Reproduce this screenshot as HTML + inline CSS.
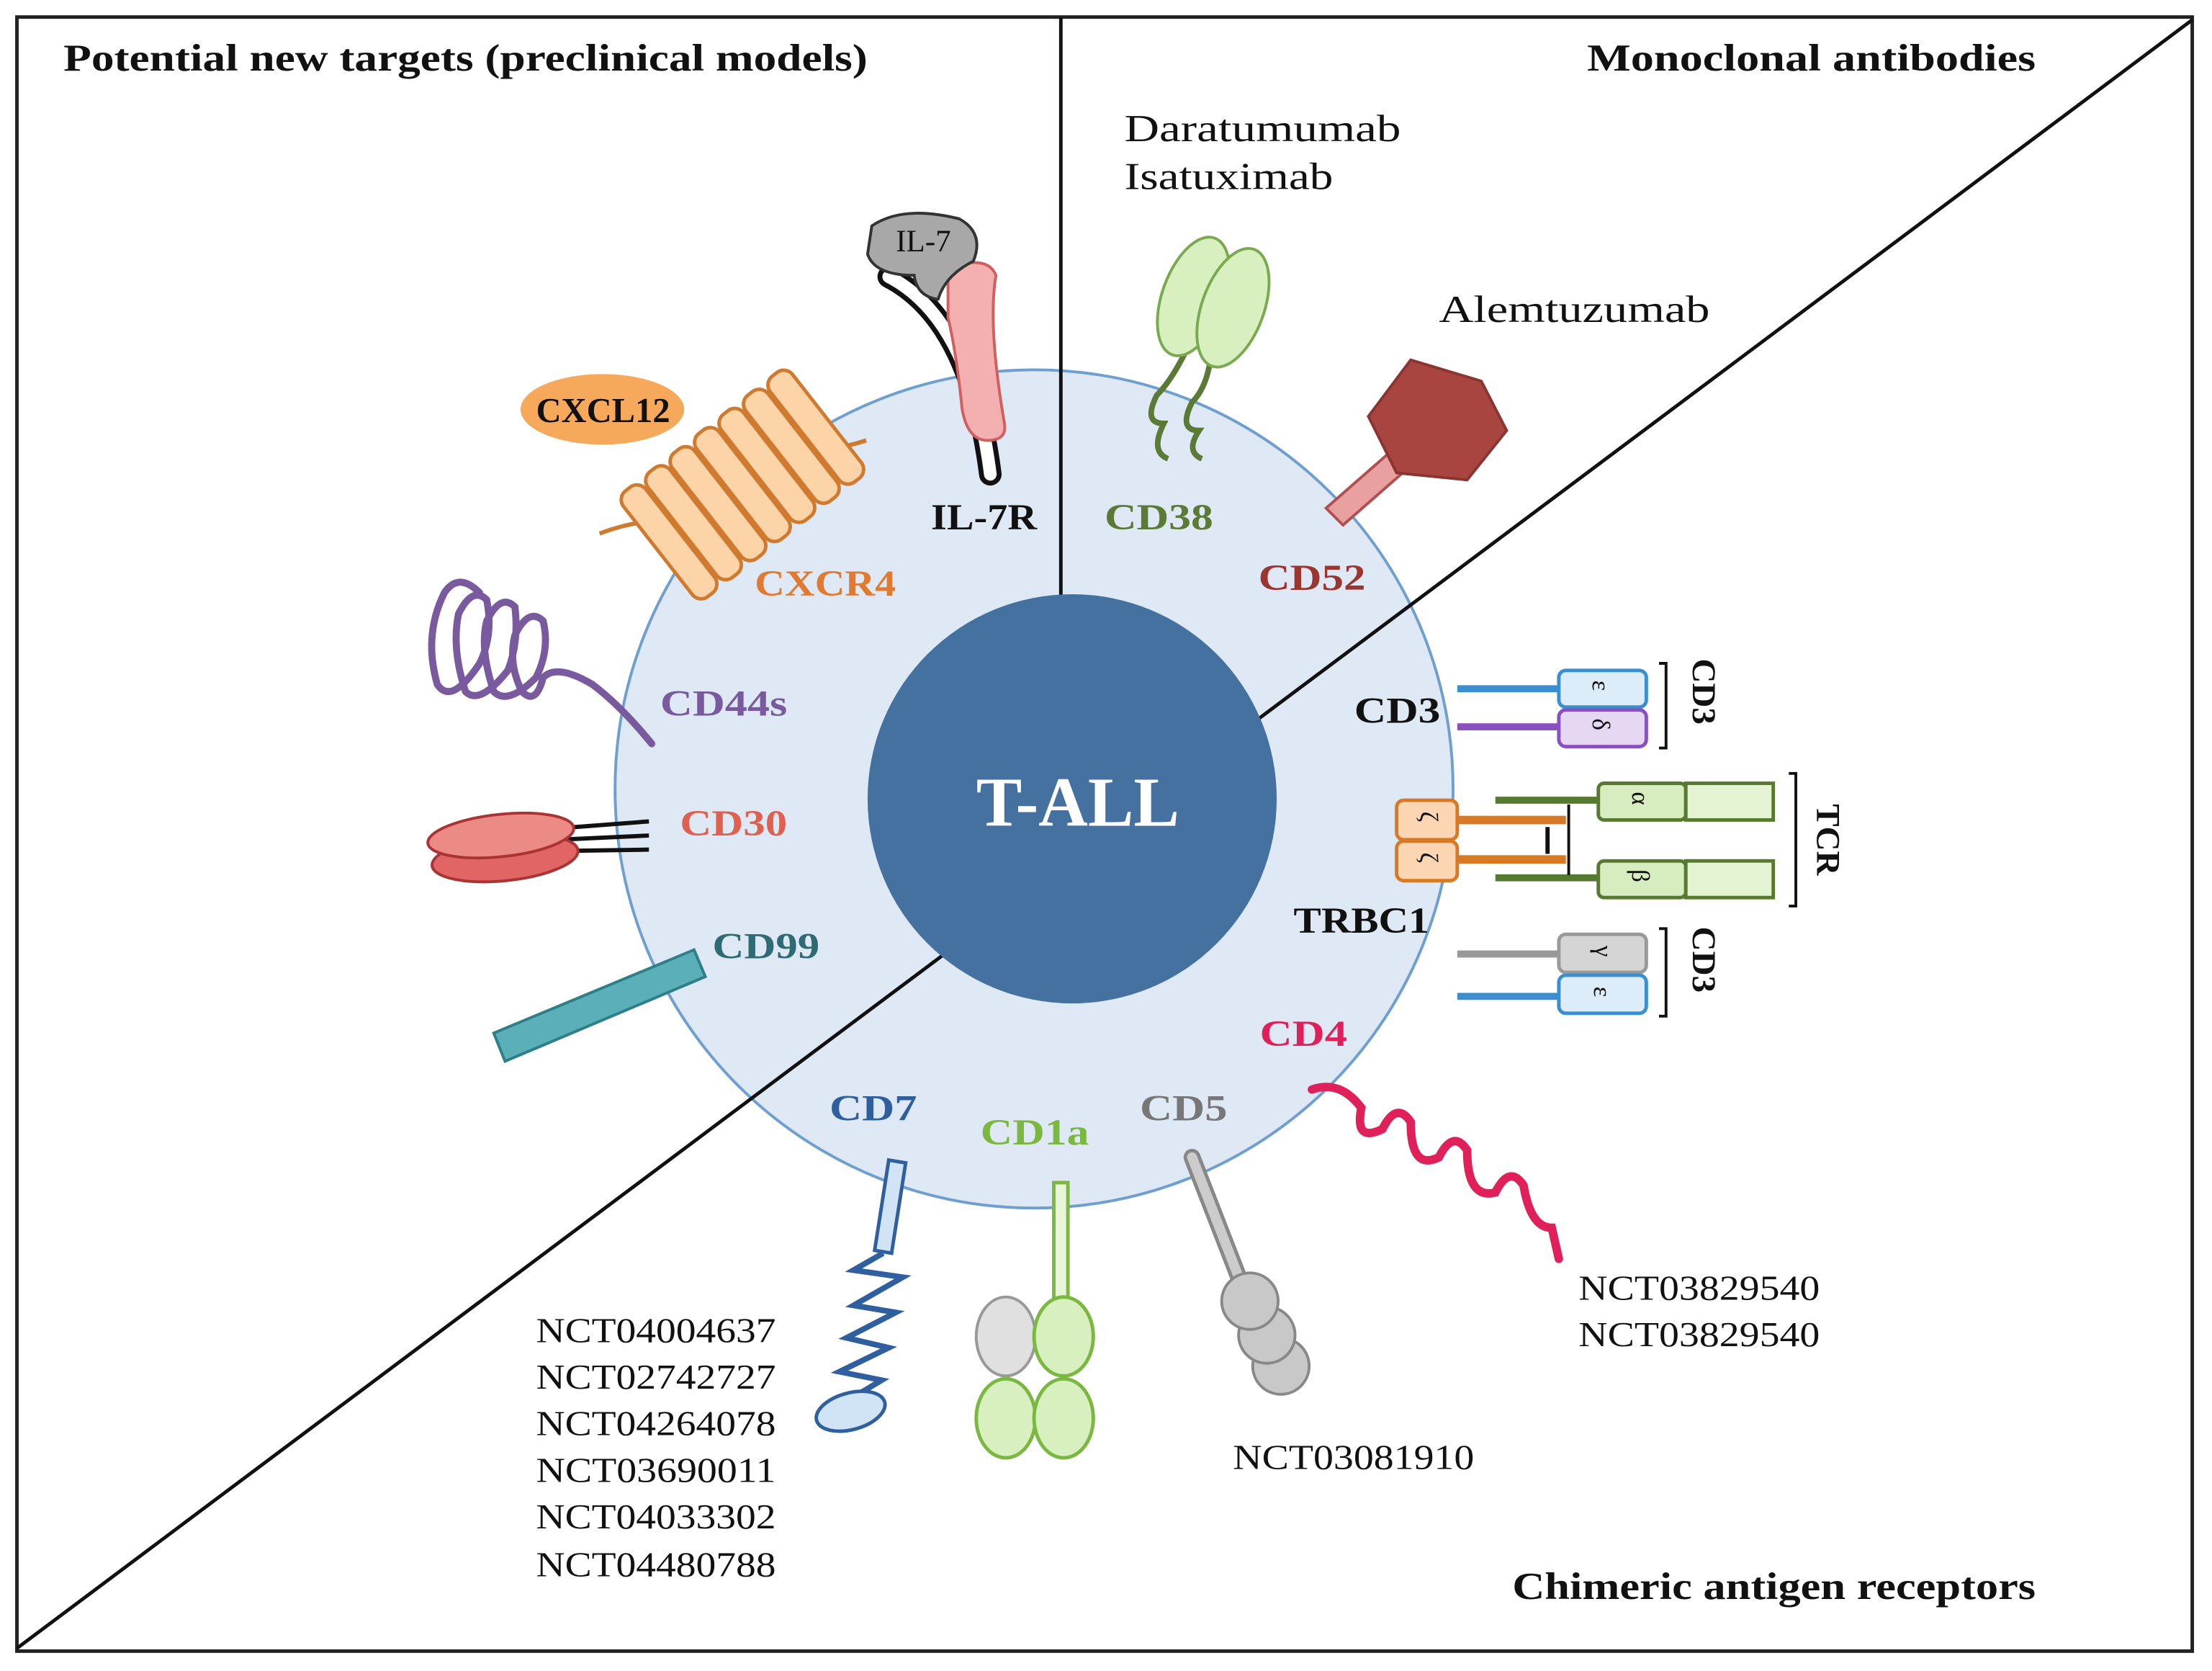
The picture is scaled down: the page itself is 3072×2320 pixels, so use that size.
<!DOCTYPE html>
<html><head><style>html,body{margin:0;padding:0;background:#fff}svg{display:block}</style></head>
<body>
<svg width="3072" height="2320" viewBox="0 0 1568 1184" xmlns="http://www.w3.org/2000/svg" font-family="Liberation Serif, serif">
<rect x="0" y="0" width="1568" height="1184" fill="#fff"/>
<rect x="12" y="12" width="1542" height="1158" fill="none" stroke="#222" stroke-width="2.5"/>
<circle cx="733" cy="559" r="297" fill="#dfe9f5" stroke="#6f9fd0" stroke-width="2"/>
<line x1="752" y1="12" x2="752" y2="430" stroke="#111" stroke-width="2.5"/>
<line x1="1554" y1="14" x2="12" y2="1168" stroke="#111" stroke-width="2.5"/>
<circle cx="760" cy="566" r="145" fill="#44719f"/>
<text x="692" y="585" font-size="50" font-weight="bold" fill="#fff" textLength="144" lengthAdjust="spacingAndGlyphs">T-ALL</text>

<g font-weight="bold" font-size="27" fill="#111">
<text x="45" y="50" textLength="570" lengthAdjust="spacingAndGlyphs">Potential new targets (preclinical models)</text>
<text x="1125" y="50" textLength="318" lengthAdjust="spacingAndGlyphs">Monoclonal antibodies</text>
<text x="1072" y="1133" textLength="371" lengthAdjust="spacingAndGlyphs">Chimeric antigen receptors</text>
</g>
<g font-size="27" fill="#111">
<text x="797" y="100" textLength="196" lengthAdjust="spacingAndGlyphs">Daratumumab</text>
<text x="797" y="134" textLength="148" lengthAdjust="spacingAndGlyphs">Isatuximab</text>
<text x="1020" y="228" textLength="192" lengthAdjust="spacingAndGlyphs">Alemtuzumab</text>
</g>
<g font-size="25" fill="#111">
<text x="380" y="951" textLength="170" lengthAdjust="spacingAndGlyphs">NCT04004637</text>
<text x="380" y="984" textLength="170" lengthAdjust="spacingAndGlyphs">NCT02742727</text>
<text x="380" y="1017" textLength="170" lengthAdjust="spacingAndGlyphs">NCT04264078</text>
<text x="380" y="1050" textLength="170" lengthAdjust="spacingAndGlyphs">NCT03690011</text>
<text x="380" y="1083" textLength="170" lengthAdjust="spacingAndGlyphs">NCT04033302</text>
<text x="380" y="1117" textLength="170" lengthAdjust="spacingAndGlyphs">NCT04480788</text>
<text x="874" y="1041" textLength="171" lengthAdjust="spacingAndGlyphs">NCT03081910</text>
<text x="1119" y="921" textLength="171" lengthAdjust="spacingAndGlyphs">NCT03829540</text>
<text x="1119" y="954" textLength="171" lengthAdjust="spacingAndGlyphs">NCT03829540</text>
</g>

<!-- IL-7R -->
<path d="M630 196 Q688 226 702 336" stroke="#111" stroke-width="16" fill="none" stroke-linecap="round"/>
<path d="M630 196 Q688 226 702 336" stroke="#fff" stroke-width="9" fill="none" stroke-linecap="round"/>
<path d="M672 190 Q700 180 706 195 Q700 230 712 300 Q714 312 700 312 Q686 312 682 290 Q678 250 672 225 Z" fill="#f4b0b0" stroke="#d06060" stroke-width="2"/>
<path d="M618 160 Q640 145 680 155 Q698 165 690 185 Q670 195 665 212 Q650 210 648 195 Q620 195 615 180 Z" fill="#a8a8a8" stroke="#333" stroke-width="2"/>
<text x="635" y="178" font-size="22" fill="#111">IL-7</text>
<text x="660" y="375" font-size="26" font-weight="bold" fill="#111" textLength="75" lengthAdjust="spacingAndGlyphs">IL-7R</text>

<!-- CXCL12 / CXCR4 -->
<ellipse cx="427" cy="290" rx="58" ry="25" fill="#f6a95a"/>
<text x="380" y="299" font-size="25" font-weight="bold" fill="#111" textLength="95" lengthAdjust="spacingAndGlyphs">CXCL12</text>
<path d="M425 378 Q460 365 480 372 M560 320 Q590 320 614 312" stroke="#d07a30" stroke-width="3" fill="none"/>
<g transform="translate(520,345) rotate(-38)" fill="#fdd4a8" stroke="#d07a30" stroke-width="2.5">
<rect x="-70" y="-45" width="20" height="95" rx="8"/>
<rect x="-48" y="-45" width="20" height="95" rx="8"/>
<rect x="-26" y="-45" width="20" height="95" rx="8"/>
<rect x="-4" y="-45" width="20" height="95" rx="8"/>
<rect x="18" y="-45" width="20" height="95" rx="8"/>
<rect x="40" y="-45" width="20" height="95" rx="8"/>
<rect x="62" y="-45" width="20" height="95" rx="8"/>
</g>
<text x="535" y="422" font-size="26" font-weight="bold" fill="#e07a30" textLength="100" lengthAdjust="spacingAndGlyphs">CXCR4</text>

<!-- CD44s -->
<path d="M462 527 Q440 500 420 485 Q395 470 385 480 Q380 500 370 490 Q360 470 365 450 Q375 430 385 440 Q390 460 380 480 M380 480 Q360 500 350 490 Q340 460 345 440 Q355 420 365 430 Q368 455 360 475 M360 475 Q340 500 330 490 Q320 460 325 435 Q335 415 345 425 Q350 450 340 470 M340 470 Q320 500 310 485 Q300 450 315 420 Q325 405 340 420" stroke="#7a5a9e" stroke-width="5" fill="none" stroke-linecap="round"/>
<text x="468" y="507" font-size="26" font-weight="bold" fill="#7a5a9e" textLength="90" lengthAdjust="spacingAndGlyphs">CD44s</text>

<!-- CD30 -->
<path d="M395 587 L460 582 M395 595 L460 592 M395 603 L460 602" stroke="#111" stroke-width="3"/>
<ellipse cx="358" cy="608" rx="52" ry="16" transform="rotate(-6 358 608)" fill="#e26565" stroke="#a33" stroke-width="2"/>
<ellipse cx="355" cy="592" rx="52" ry="15" transform="rotate(-6 355 592)" fill="#ec8a85" stroke="#a33" stroke-width="2"/>
<text x="482" y="592" font-size="26" font-weight="bold" fill="#e06050" textLength="76" lengthAdjust="spacingAndGlyphs">CD30</text>

<!-- CD99 -->
<polygon points="350,732 492,673 500,692 358,752" fill="#5aafb8" stroke="#2f7f88" stroke-width="2"/>
<text x="505" y="679" font-size="26" font-weight="bold" fill="#2f6b73" textLength="76" lengthAdjust="spacingAndGlyphs">CD99</text>

<!-- CD38 -->
<path d="M840 250 Q830 270 820 280 Q810 300 825 300 Q815 320 828 325 M858 255 Q855 275 845 285 Q835 305 850 305 Q840 320 852 325" stroke="#5a7a35" stroke-width="4" fill="none"/>
<ellipse cx="846" cy="210" rx="22" ry="44" transform="rotate(20 846 210)" fill="#d8f0c0" stroke="#7aaa50" stroke-width="2"/>
<ellipse cx="874" cy="218" rx="22" ry="44" transform="rotate(20 874 218)" fill="#d8f0c0" stroke="#7aaa50" stroke-width="2"/>
<text x="783" y="375" font-size="26" font-weight="bold" fill="#5a7a35" textLength="77" lengthAdjust="spacingAndGlyphs">CD38</text>

<!-- CD52 -->
<polygon points="940,360 952,372 1000,330 988,318" fill="#e8a0a0" stroke="#b05050" stroke-width="2"/>
<polygon points="1000,255 1050,270 1068,305 1040,340 990,335 970,295" fill="#a94540" stroke="#8a3530" stroke-width="2"/>
<text x="892" y="418" font-size="26" font-weight="bold" fill="#9a3530" textLength="76" lengthAdjust="spacingAndGlyphs">CD52</text>

<!-- CD3 top -->
<line x1="1033" y1="488" x2="1106" y2="488" stroke="#3b8fd0" stroke-width="5"/>
<line x1="1033" y1="515" x2="1106" y2="515" stroke="#8a4fc0" stroke-width="5"/>
<rect x="1105" y="475" width="62" height="26" rx="5" fill="#dcecf8" stroke="#3b8fd0" stroke-width="2.5"/>
<rect x="1105" y="503" width="62" height="26" rx="5" fill="#e6d8f3" stroke="#8a4fc0" stroke-width="2.5"/>
<text x="1130" y="495" font-size="18" fill="#111" transform="rotate(90 1136 488)">ε</text>
<text x="1130" y="522" font-size="18" fill="#111" transform="rotate(90 1136 515)">δ</text>
<path d="M1176 470 H1181 V530 H1176" stroke="#111" stroke-width="2" fill="none"/>
<text x="1190" y="500" font-size="24" font-weight="bold" fill="#111" transform="rotate(90 1200 500)" text-anchor="middle">CD3</text>
<text x="960" y="512" font-size="26" font-weight="bold" fill="#111" textLength="61" lengthAdjust="spacingAndGlyphs">CD3</text>

<!-- TCR -->
<line x1="1060" y1="567" x2="1135" y2="567" stroke="#567a30" stroke-width="5"/>
<line x1="1060" y1="622" x2="1135" y2="622" stroke="#567a30" stroke-width="5"/>
<line x1="1033" y1="581" x2="1110" y2="581" stroke="#d87a25" stroke-width="6"/>
<line x1="1033" y1="609" x2="1110" y2="609" stroke="#d87a25" stroke-width="6"/>
<line x1="1112" y1="570" x2="1112" y2="620" stroke="#111" stroke-width="2"/>
<line x1="1097" y1="586" x2="1097" y2="605" stroke="#111" stroke-width="3"/>
<rect x="990" y="567" width="43" height="28" rx="5" fill="#fcd6b3" stroke="#d87a25" stroke-width="2.5"/>
<rect x="990" y="596" width="43" height="28" rx="5" fill="#fcd6b3" stroke="#d87a25" stroke-width="2.5"/>
<text x="1005" y="585" font-size="18" fill="#111" transform="rotate(90 1011 581)">ζ</text>
<text x="1005" y="614" font-size="18" fill="#111" transform="rotate(90 1011 610)">ζ</text>
<rect x="1133" y="555" width="62" height="26" rx="4" fill="#d8edbf" stroke="#567a30" stroke-width="2.5"/>
<rect x="1195" y="555" width="62" height="26" fill="#e4f3d2" stroke="#567a30" stroke-width="2.5"/>
<rect x="1133" y="610" width="62" height="26" rx="4" fill="#d8edbf" stroke="#567a30" stroke-width="2.5"/>
<rect x="1195" y="610" width="62" height="26" fill="#e4f3d2" stroke="#567a30" stroke-width="2.5"/>
<text x="1155" y="573" font-size="18" fill="#111" transform="rotate(90 1162 568)">α</text>
<text x="1155" y="628" font-size="18" fill="#111" transform="rotate(90 1162 623)">β</text>
<path d="M1268 548 H1273 V642 H1268" stroke="#111" stroke-width="2" fill="none"/>
<text x="1278" y="605" font-size="24" font-weight="bold" fill="#111" transform="rotate(90 1288 605)" text-anchor="middle">TCR</text>
<text x="917" y="661" font-size="26" font-weight="bold" fill="#111" textLength="96" lengthAdjust="spacingAndGlyphs">TRBC1</text>

<!-- CD3 bottom -->
<line x1="1033" y1="676" x2="1106" y2="676" stroke="#999" stroke-width="5"/>
<line x1="1033" y1="706" x2="1106" y2="706" stroke="#3b8fd0" stroke-width="5"/>
<rect x="1105" y="662" width="62" height="27" rx="5" fill="#d5d5d5" stroke="#999" stroke-width="2.5"/>
<rect x="1105" y="691" width="62" height="27" rx="5" fill="#dcecf8" stroke="#3b8fd0" stroke-width="2.5"/>
<text x="1130" y="681" font-size="18" fill="#111" transform="rotate(90 1136 676)">γ</text>
<text x="1130" y="711" font-size="18" fill="#111" transform="rotate(90 1136 705)">ε</text>
<path d="M1176 658 H1181 V720 H1176" stroke="#111" stroke-width="2" fill="none"/>
<text x="1190" y="690" font-size="24" font-weight="bold" fill="#111" transform="rotate(90 1200 690)" text-anchor="middle">CD3</text>

<!-- CD4 -->
<text x="893" y="741" font-size="26" font-weight="bold" fill="#e0205a" textLength="62" lengthAdjust="spacingAndGlyphs">CD4</text>
<path d="M930 772 Q950 765 965 785 Q960 810 980 800 Q990 780 1000 795 Q1000 830 1020 820 Q1030 800 1040 815 Q1040 850 1060 845 Q1070 825 1080 840 Q1085 870 1100 870 L1105 892" stroke="#e0205a" stroke-width="6" fill="none" stroke-linecap="round"/>

<!-- CD5 -->
<text x="808" y="794" font-size="26" font-weight="bold" fill="#777" textLength="62" lengthAdjust="spacingAndGlyphs">CD5</text>
<line x1="845" y1="820" x2="880" y2="910" stroke="#888" stroke-width="12" stroke-linecap="round"/>
<line x1="845" y1="820" x2="880" y2="910" stroke="#ccc" stroke-width="7" stroke-linecap="round"/>
<circle cx="908" cy="968" r="20" fill="#c8c8c8" stroke="#888" stroke-width="2"/>
<circle cx="898" cy="946" r="20" fill="#c8c8c8" stroke="#888" stroke-width="2"/>
<circle cx="886" cy="922" r="20" fill="#c8c8c8" stroke="#888" stroke-width="2"/>

<!-- CD1a -->
<text x="695" y="811" font-size="26" font-weight="bold" fill="#7ab840" textLength="77" lengthAdjust="spacingAndGlyphs">CD1a</text>
<rect x="747" y="838" width="10" height="82" fill="#e8f6d8" stroke="#7ab840" stroke-width="2.5"/>
<ellipse cx="713" cy="947" rx="21" ry="28" fill="#e0e0e0" stroke="#999" stroke-width="2"/>
<ellipse cx="754" cy="947" rx="21" ry="28" fill="#d8f0c0" stroke="#7ab840" stroke-width="2.5"/>
<ellipse cx="713" cy="1005" rx="21" ry="28" fill="#d8f0c0" stroke="#7ab840" stroke-width="2.5"/>
<ellipse cx="754" cy="1005" rx="21" ry="28" fill="#d8f0c0" stroke="#7ab840" stroke-width="2.5"/>

<!-- CD7 -->
<text x="588" y="794" font-size="26" font-weight="bold" fill="#2f5f9f" textLength="62" lengthAdjust="spacingAndGlyphs">CD7</text>
<polygon points="630,822 642,824 632,888 620,886" fill="#d0e4f5" stroke="#2f5f9f" stroke-width="2.5"/>
<path d="M626 888 L605 900 L640 905 L605 925 L635 930 L600 948 L630 955 L595 972 L625 978 L605 990" stroke="#2f5f9f" stroke-width="4" fill="none"/>
<ellipse cx="603" cy="1000" rx="25" ry="13" transform="rotate(-15 603 1000)" fill="#d0e4f5" stroke="#2f5f9f" stroke-width="2.5"/>
</svg>
</body></html>
